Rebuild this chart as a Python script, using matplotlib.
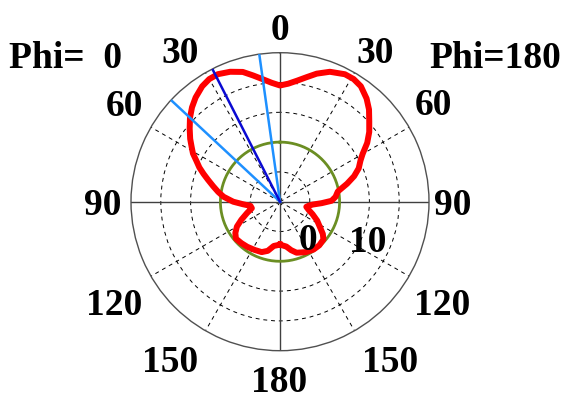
import matplotlib.pyplot as plt
import numpy as np

plt.rcParams['font.family'] = 'Liberation Serif'
plt.rcParams['font.weight'] = 'bold'

# radiation pattern in dB, angle measured from the top (0) towards each side
ang_phi0 = [0, 4, 8, 12, 16, 21, 26, 30, 34, 39, 43, 47, 51, 55, 58, 61, 64, 67,
            70, 73, 77, 81, 85, 90, 94, 98, 103, 109, 115, 120, 125, 130, 137,
            144, 152, 160, 166, 172, 180]
gain_phi0 = [19.0, 20.0, 21.5, 23.3, 25.3, 26.7, 27.6, 27.5, 26.7, 25.0, 23.3,
             21.3, 19.0, 16.8, 15.0, 13.4, 11.2, 9.4, 7.3, 5.3, 3.0, 1.0, -1.0,
             -4.3, -7.6, -10.0, -10.3, -8.3, -5.7, -3.3, -1.7, -0.7, -1.0, -1.3,
             -1.7, -2.0, -3.0, -5.0, -5.6]
ang_phi180 = [0, 4, 8, 12, 16, 21, 27, 31, 35, 40, 44, 48, 52, 56, 60, 63, 67,
              71, 75, 80, 85, 89, 92, 95, 98, 101, 106, 111, 117, 122, 127, 131,
              138, 145, 153, 162, 167, 172, 180]
gain_phi180 = [19.0, 19.7, 21.0, 22.7, 24.7, 26.7, 28.0, 28.0, 27.3, 25.2, 23.0,
               20.3, 18.0, 15.3, 12.0, 10.3, 8.7, 6.3, 3.3, -0.3, -1.3, -2.7,
               -6.0, -9.0, -10.3, -11.0, -10.0, -8.3, -6.0, -4.3, -2.0, -0.7,
               -0.3, -0.4, -1.0, -2.0, -3.3, -4.8, -5.6]

main_beam = [27]
beam_edges = [8, 47]
ref_level = 0
r_min, r_max = -20, 30

angle_labels = ['0', '30', '60', '90', '120', '150', '180',
                '30', '60', '90', '120', '150']
radial_labels = ['0', '10']

W, H = 567, 398
fig = plt.figure(figsize=(W / 100, H / 100), dpi=100)
ax = fig.add_axes([131 / W, 1 - 350.7 / H, 298 / W, 298 / H], projection='polar')
ax.set_theta_zero_location('N')
ax.set_theta_direction(1)
ax.set_ylim(r_min, r_max)

ax.set_xticks(np.radians(np.arange(0, 360, 30)))
ax.set_yticks([-10, 0, 10, 20])
ax.set_xticklabels([])
ax.set_yticklabels([])
ax.tick_params(length=0)
ax.grid(True, color='black', linestyle=(0, (4, 4)), linewidth=0.7)
ax.spines['polar'].set_color('#505050')
ax.spines['polar'].set_linewidth(1.0)

# solid axis lines
for a in [0, 90, 180, 270]:
    ax.plot([np.radians(a)] * 2, [r_min, r_max], color='#404040', lw=1.0, zorder=2)

# reference circle
t = np.linspace(0, 2 * np.pi, 361)
ax.plot(t, np.full_like(t, ref_level), color='#6B8E23', lw=2.0, zorder=3)

# pattern: phi=180 side on the right (negative angles), phi=0 side on the left
th = np.concatenate([-np.radians(ang_phi180[::-1]), np.radians(ang_phi0[1:])])
g = np.concatenate([gain_phi180[::-1], gain_phi0[1:]])
ax.plot(th, g, color='red', lw=4.3, solid_joinstyle='round', zorder=4)

for a in beam_edges:
    ax.plot([np.radians(a)] * 2, [r_min, r_max], color='#1E90FF', lw=1.8, zorder=5)
for a in main_beam:
    ax.plot([np.radians(a)] * 2, [r_min, r_max], color='#0A0AD2', lw=1.8, zorder=5)


def label(x, y, s, ha='center'):
    fig.text(x / W, 1 - y / H, s, ha=ha, va='baseline', fontsize=27,
             fontweight='bold')


# (x, baseline) in pixels
pos = [(280, 40), (180.5, 63), (124, 116), (103, 215), (114, 315), (170, 372),
       (279, 391.5), (375.5, 63), (433, 115), (453, 215), (442.5, 315), (390, 372)]
for (x, y), s in zip(pos, angle_labels):
    label(x, y, s)

label(308, 250, radial_labels[0])
label(368, 252, radial_labels[1])
label(9, 68.5, 'Phi=  0', ha='left')
label(561, 68.5, 'Phi=180', ha='right')

fig.savefig('out.png', dpi=100)
